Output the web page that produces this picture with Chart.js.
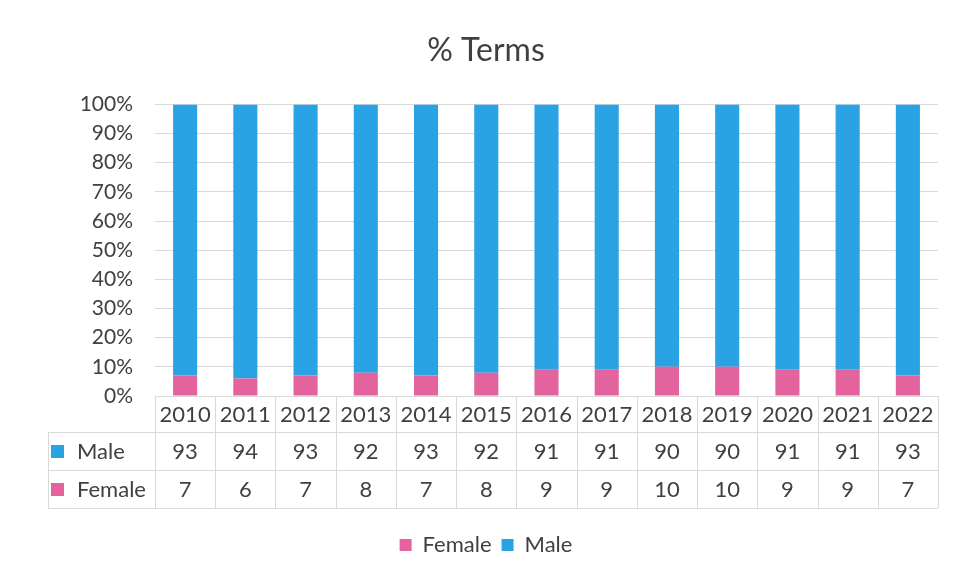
<!DOCTYPE html>
<html>
<head>
<meta charset="utf-8">
<script src="https://cdn.jsdelivr.net/npm/chart.js@4/dist/chart.umd.min.js"></script>
<style>
  html, body { margin: 0; padding: 0; background: #ffffff; }
  #wrap { width: 956px; height: 580px; }
</style>
</head>
<body>
<div id="wrap"><canvas id="terms-chart" width="956" height="580"></canvas></div>
<script>
// Datos del gráfico
const years = ['2010', '2011', '2012', '2013', '2014', '2015', '2016', '2017', '2018', '2019', '2020', '2021', '2022'];
const maleValues = [93, 94, 93, 92, 93, 92, 91, 91, 90, 90, 91, 91, 93];
const femaleValues = [7, 6, 7, 8, 7, 8, 9, 9, 10, 10, 9, 9, 7];
const yTicks = [0, 10, 20, 30, 40, 50, 60, 70, 80, 90, 100];

const colors = {
    male: '#2aa3e5',
    female: '#e2639d',
    text: '#404040',
    grid: '#d9d9d9'
};
const FONT = 'Lato, "Open Sans", sans-serif';

// Filas de la tabla de datos (debajo del eje X)
const tableRows = [
    { label: 'Male', values: maleValues, color: colors.male },
    { label: 'Female', values: femaleValues, color: colors.female }
];

const ROW_H = [36, 38, 38]; // años, Male, Female
const TABLE_LEFT = 48;

const dataTablePlugin = {
    id: 'dataTable',
    afterDraw(chart) {
        const ctx = chart.ctx;
        const x = chart.scales.x;
        const area = chart.chartArea;
        const n = years.length;
        const step = (x.getPixelForValue(n - 1) - x.getPixelForValue(0)) / (n - 1);
        const left = x.getPixelForValue(0) - step / 2;
        const right = x.getPixelForValue(n - 1) + step / 2;
        const top = area.bottom;
        const r1 = top + ROW_H[0];
        const r2 = r1 + ROW_H[1];
        const r3 = r2 + ROW_H[2];

        ctx.save();
        ctx.strokeStyle = colors.grid;
        ctx.lineWidth = 1;
        ctx.beginPath();
        // líneas horizontales
        ctx.moveTo(left, Math.round(top) + 0.5); ctx.lineTo(right, Math.round(top) + 0.5);
        [r1, r2, r3].forEach(y => {
            ctx.moveTo(TABLE_LEFT, Math.round(y) + 0.5);
            ctx.lineTo(right, Math.round(y) + 0.5);
        });
        // líneas verticales
        for (let i = 0; i <= n; i++) {
            const vx = Math.round(left + i * step) + 0.5;
            ctx.moveTo(vx, top); ctx.lineTo(vx, r3);
        }
        ctx.moveTo(TABLE_LEFT + 0.5, r1); ctx.lineTo(TABLE_LEFT + 0.5, r3);
        ctx.stroke();

        ctx.fillStyle = colors.text;
        ctx.font = '22px ' + FONT;
        ctx.textAlign = 'center';
        ctx.textBaseline = 'middle';
        years.forEach((yr, i) => {
            ctx.fillText(yr, x.getPixelForValue(i), top + ROW_H[0] / 2 + 1);
        });
        const rowTops = [r1, r2];
        tableRows.forEach((row, ri) => {
            const cy = rowTops[ri] + ROW_H[ri + 1] / 2 + 1;
            ctx.fillStyle = row.color;
            ctx.fillRect(TABLE_LEFT + 3, cy - 7, 13, 13);
            ctx.fillStyle = colors.text;
            ctx.textAlign = 'left';
            ctx.fillText(row.label, TABLE_LEFT + 29, cy);
            ctx.textAlign = 'center';
            row.values.forEach((v, i) => {
                ctx.fillText(String(v), x.getPixelForValue(i), cy);
            });
        });
        ctx.restore();
    }
};

new Chart(document.getElementById('terms-chart'), {
    type: 'bar',
    data: {
        labels: years,
        datasets: [
            {
                label: 'Female',
                data: femaleValues,
                backgroundColor: colors.female,
                barPercentage: 0.4,
                categoryPercentage: 1
            },
            {
                label: 'Male',
                data: maleValues,
                backgroundColor: colors.male,
                barPercentage: 0.4,
                categoryPercentage: 1
            }
        ]
    },
    options: {
        responsive: false,
        animation: false,
        layout: { padding: { left: 34, right: 18, top: 0, bottom: 14 } },
        plugins: {
            title: {
                display: true,
                text: '% Terms',
                color: colors.text,
                font: { family: FONT, size: 32, weight: 'normal' },
                padding: { top: 31, bottom: 35 }
            },
            legend: {
                position: 'bottom',
                labels: {
                    color: colors.text,
                    font: { family: FONT, size: 22 },
                    boxWidth: 12,
                    boxHeight: 12,
                    padding: 10
                }
            },
            tooltip: { enabled: false }
        },
        scales: {
            x: {
                stacked: true,
                grid: { display: false },
                border: { display: false },
                ticks: { display: false },
                afterFit(scale) { scale.height = 128; }
            },
            y: {
                stacked: true,
                min: 0,
                max: 100,
                afterBuildTicks(scale) { scale.ticks = yTicks.map(v => ({ value: v })); },
                afterFit(scale) { scale.width = 121; },
                grid: { color: colors.grid, drawTicks: false },
                border: { display: false },
                ticks: {
                    color: colors.text,
                    font: { family: FONT, size: 21 },
                    padding: 22,
                    callback: v => v + '%'
                }
            }
        }
    },
    plugins: [dataTablePlugin]
});
</script>
</body>
</html>
